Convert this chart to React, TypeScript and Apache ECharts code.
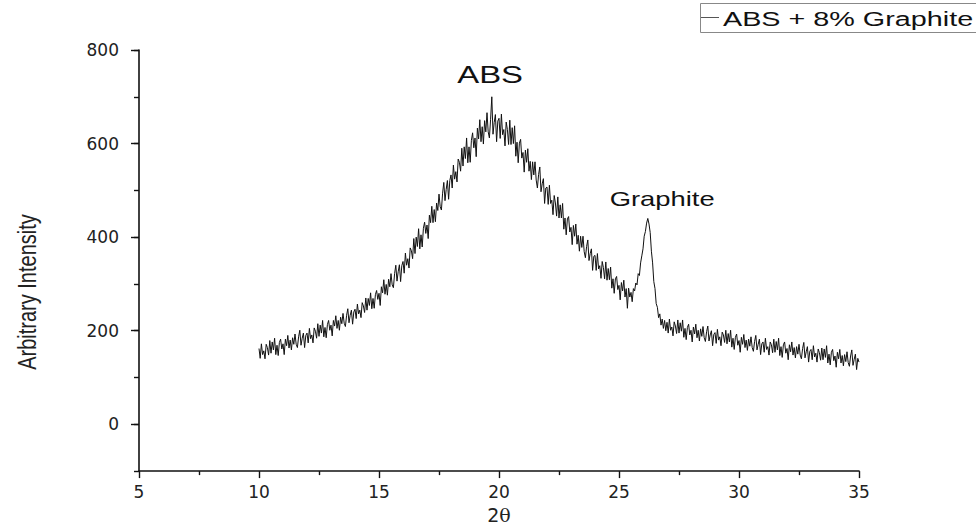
import React, { useEffect, useRef } from "react";
import * as echarts from "echarts";

// 2θ sampling (degrees)
const thetaStart = 10;
const thetaStep = 0.05;

const intensity: number[] = [
  162, 141, 172, 149, 157, 140, 171, 164, 148, 179,
  152, 176, 159, 184, 149, 169, 147, 175, 182, 161,
  172, 149, 182, 168, 190, 163, 180, 159, 185, 171,
  193, 171, 164, 187, 201, 169, 184, 195, 164, 190,
  195, 174, 205, 183, 191, 174, 206, 199, 184, 215,
  188, 212, 195, 222, 187, 207, 185, 213, 222, 201,
  212, 189, 222, 210, 232, 205, 222, 201, 229, 215,
  237, 216, 209, 233, 247, 217, 233, 244, 214, 240,
  246, 226, 257, 236, 244, 228, 260, 253, 239, 270,
  244, 269, 254, 281, 247, 269, 248, 277, 286, 267,
  280, 254, 294, 281, 309, 278, 299, 276, 310, 294,
  322, 298, 292, 322, 340, 306, 326, 341, 305, 339,
  348, 323, 366, 340, 354, 334, 377, 371, 354, 397,
  365, 400, 380, 418, 375, 405, 379, 419, 432, 408,
  426, 397, 447, 431, 466, 431, 459, 433, 473, 457,
  492, 465, 458, 494, 517, 478, 502, 521, 481, 521,
  533, 505, 554, 524, 540, 518, 567, 560, 541, 590,
  552, 593, 568, 612, 559, 593, 560, 607, 623, 591,
  612, 572, 633, 610, 651, 604, 636, 599, 649, 625,
  666, 625, 612, 652, 700, 620, 645, 662, 604, 648,
  654, 611, 663, 619, 630, 595, 646, 630, 598, 650,
  598, 634, 600, 638, 573, 603, 559, 601, 609, 569,
  581, 539, 586, 560, 589, 541, 562, 523, 561, 533,
  561, 522, 505, 534, 550, 497, 514, 525, 472, 505,
  507, 470, 511, 472, 479, 448, 489, 473, 445, 486,
  441, 469, 441, 472, 417, 441, 405, 439, 444, 411,
  421, 384, 425, 402, 428, 385, 404, 370, 402, 378,
  402, 369, 356, 380, 394, 350, 365, 375, 329, 359,
  361, 329, 365, 332, 339, 312, 348, 335, 311, 347,
  308, 333, 309, 336, 291, 311, 280, 311, 316, 288,
  297, 266, 303, 285, 308, 272, 290, 248, 291, 272,
  282, 262, 290, 285, 302, 298, 322, 318, 345, 360,
  375, 402, 412, 430, 440, 428, 410, 370, 345, 305,
  290, 258, 250, 228, 236, 212, 225, 205, 222, 200,
  218, 195, 225, 201, 208, 189, 219, 210, 194, 223,
  195, 217, 199, 223, 186, 205, 181, 207, 214, 191,
  201, 176, 208, 193, 214, 185, 201, 178, 204, 188,
  209, 185, 177, 198, 210, 178, 191, 200, 168, 192,
  196, 173, 203, 180, 187, 168, 197, 191, 175, 201,
  172, 194, 176, 201, 165, 184, 160, 186, 193, 169,
  179, 154, 186, 171, 192, 164, 180, 158, 182, 167,
  187, 164, 156, 177, 190, 159, 171, 182, 149, 172,
  176, 154, 184, 160, 166, 148, 176, 170, 153, 182,
  154, 177, 159, 184, 147, 166, 143, 170, 176, 152,
  162, 138, 170, 155, 176, 148, 164, 142, 166, 150,
  171, 148, 140, 162, 175, 142, 155, 166, 133, 156,
  160, 138, 168, 144, 152, 133, 161, 153, 137, 163,
  138, 161, 143, 168, 131, 150, 127, 154, 160, 136,
  146, 122, 154, 140, 160, 131, 147, 125, 149, 134,
  155, 132, 124, 146, 159, 126, 139, 150, 117, 141,
  133,
];

const seriesName = "ABS + 8% Graphite";
const yTickLabels = [0, 200, 400, 600, 800];
const xTickLabels = [5, 10, 15, 20, 25, 30, 35];
const peakLabels = [
  { text: "ABS", x: 19.63, y: 747, size: 24 },
  { text: "Graphite", x: 26.8, y: 482, size: 20 },
];

export default function App() {
  const ref = useRef<HTMLDivElement>(null);
  useEffect(() => {
    if (!ref.current) return;
    const chart = echarts.init(ref.current, null, { renderer: "svg" });
    const data = intensity.map((v, i) => [
      +(thetaStart + i * thetaStep).toFixed(2),
      v,
    ]);
    const grid = { left: 139, right: 117, top: 50, bottom: 52 };
    const sx = 1.37;
    const option: any = {
      animation: false,
      backgroundColor: "#fff",
      grid,
      xAxis: {
        type: "value",
        min: xTickLabels[0],
        max: xTickLabels[xTickLabels.length - 1],
        interval: 5,
        splitLine: { show: false },
        axisLine: { onZero: false, lineStyle: { color: "#111", width: 1.6 } },
        axisTick: { length: 7, lineStyle: { color: "#111", width: 1.4 } },
        minorTick: {
          show: true,
          splitNumber: 2,
          length: 4,
          lineStyle: { color: "#111", width: 1.4 },
        },
        axisLabel: {
          color: "#222",
          fontSize: 17,
          fontFamily: "DejaVu Sans",
          margin: 12,
        },
        name: "{a|2}{b|θ}",
        nameLocation: "middle",
        nameGap: 32,
        nameTextStyle: {
          rich: {
            a: { fontFamily: "DejaVu Sans", fontSize: 19, color: "#222" },
            b: { fontFamily: "DejaVu Serif", fontSize: 19, color: "#222" },
          },
        },
      },
      yAxis: [
        {
          type: "value",
          min: -100,
          max: 800,
          interval: 100,
          splitLine: { show: false },
          axisLine: { show: true, onZero: false, lineStyle: { color: "#111", width: 1.6 } },
          axisTick: { show: true, length: 5, lineStyle: { color: "#111", width: 1.4 } },
          axisLabel: {
            color: "#222",
            fontSize: 17,
            fontFamily: "DejaVu Sans",
            margin: 20,
            formatter: (v: number) => (yTickLabels.includes(v) ? String(v) : ""),
          },
        },
        {
          type: "value",
          position: "left",
          min: -100,
          max: 800,
          splitLine: { show: false },
          axisLine: { show: false, onZero: false },
          axisLabel: { show: false },
          axisTick: {
            show: true,
            length: 8,
            customValues: yTickLabels,
            lineStyle: { color: "#111", width: 1.4 },
          },
        },
      ],
      series: [
        {
          name: seriesName,
          type: "line",
          data,
          showSymbol: false,
          symbol: "none",
          lineStyle: { color: "#111", width: 1 },
          yAxisIndex: 0,
        },
      ],
    };
    chart.setOption(option);

    const annotations = peakLabels.map((p) => {
      const [px, py] = chart.convertToPixel({ xAxisIndex: 0, yAxisIndex: 0 }, [p.x, p.y]) as number[];
      return {
        type: "text",
        x: px,
        y: py,
        scaleX: sx,
        z: 5,
        style: {
          text: p.text,
          fill: "#111",
          font: `${p.size}px 'Liberation Sans'`,
          textAlign: "center",
          textVerticalAlign: "middle",
        },
      };
    });

    chart.setOption({
      graphic: [
        ...annotations,
        {
          type: "rect",
          shape: { x: 700.5, y: 3.5, width: 300, height: 29 },
          style: { fill: "#fff", stroke: "#888", lineWidth: 1 },
          z: 10,
        },
        {
          type: "line",
          shape: { x1: 701, y1: 17.5, x2: 719, y2: 17.5 },
          style: { stroke: "#555", lineWidth: 1 },
          z: 11,
        },
        {
          type: "text",
          x: 723,
          y: 18,
          scaleX: sx,
          z: 11,
          style: {
            text: seriesName,
            fill: "#111",
            font: "21px 'Liberation Sans'",
            textAlign: "left",
            textVerticalAlign: "middle",
          },
        },
        {
          type: "text",
          x: 27,
          y: 292,
          rotation: Math.PI / 2,
          scaleY: 1.3,
          style: {
            text: "Arbitrary Intensity",
            fill: "#222",
            font: "20px 'Liberation Sans'",
            textAlign: "center",
            textVerticalAlign: "middle",
          },
        },
      ],
    });
    return () => chart.dispose();
  }, []);
  return (
    <div
      ref={ref}
      style={{ position: "fixed", left: 0, top: 0, width: 976, height: 529, background: "#fff" }}
    />
  );
}
